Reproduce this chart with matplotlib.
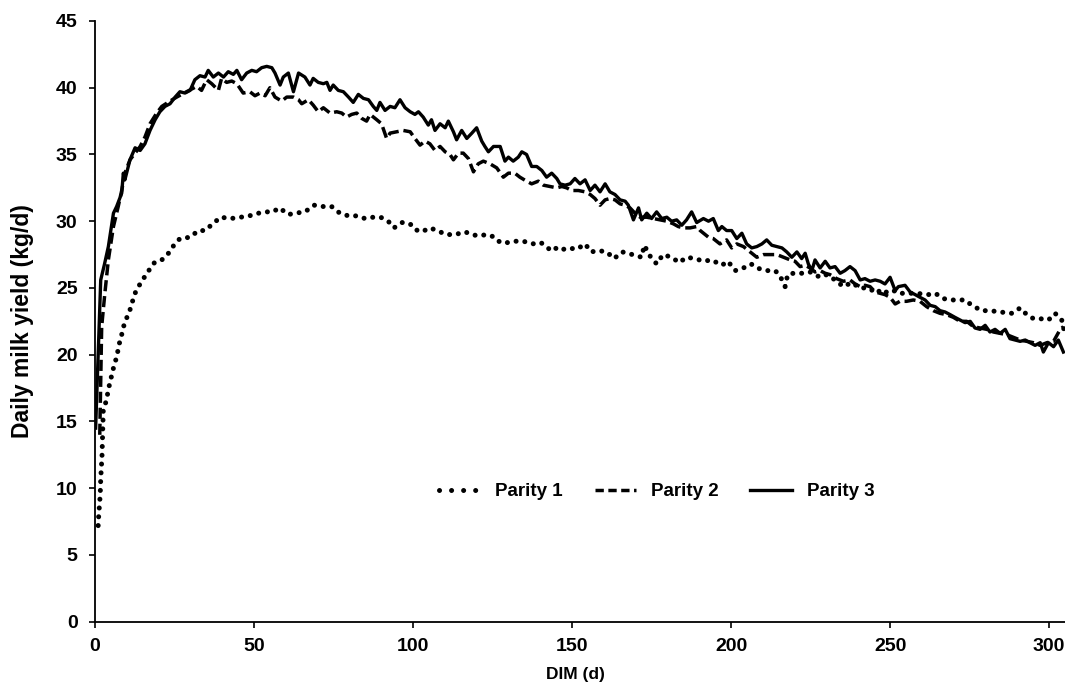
#!/usr/bin/env python3
import numpy as np
from matplotlib import pyplot as plt
from matplotlib.lines import Line2D

# Parity 1 (dotted) - DIM and yield
dim_p1 = [1.0, 1.2, 1.5, 1.7, 1.8, 2.0, 2.2, 2.3, 2.4, 2.5, 2.6, 3.6, 4.3, 5.1, 5.9, 6.9,
          7.5, 8.5, 9.3, 10.8, 11.8, 12.9, 14.7, 16.6, 18.7, 21.0, 23.1, 24.8, 26.7, 29.9,
          32.5, 34.6, 37.0, 39.5, 42.7, 45.8, 48.5, 51.4, 54.0, 55.9, 58.0, 60.8, 62.9,
          66.0, 68.9, 71.8, 74.4, 77.0, 79.7, 82.3, 84.9, 87.5, 89.8, 92.2, 94.0, 96.6,
          99.1, 100.4, 102.7, 105.3, 107.6, 110.4, 113.2, 116.4, 118.5, 120.6, 123.2,
          125.8, 127.4, 130.0, 132.1, 134.7, 137.5, 140.2, 142.9, 144.1, 145.9, 148.8,
          151.5, 154.1, 156.0, 158.3, 160.9, 163.2, 165.8, 169.0, 171.9, 172.7, 174.5,
          176.6, 178.6, 181.3, 183.7, 186.0, 188.7, 191.3, 193.9, 197.1, 199.0, 201.3,
          203.9, 206.3, 208.1, 211.0, 213.8, 215.2, 217.0, 217.8, 219.6, 222.2, 224.8,
          228.0, 230.1, 232.7, 235.3, 237.9, 240.6, 243.2, 245.8, 247.2, 249.5, 251.6,
          253.1, 255.8, 258.4, 262.0, 264.2, 266.8, 269.4, 271.5, 273.6, 275.7, 278.8,
          281.4, 284.6, 288.3, 290.9, 293.0, 295.1, 297.2, 299.8, 301.9, 304.3, 304.8]
yield_p1 = [7.2, 8.1, 9.0, 9.9, 10.7, 11.5, 12.4, 13.2, 14.1, 15.0, 15.8, 16.6, 17.5, 18.3,
            19.1, 19.9, 20.7, 21.6, 22.4, 23.2, 24.0, 24.8, 25.5, 26.2, 26.9, 27.1, 27.6,
            28.2, 28.7, 28.8, 29.3, 29.3, 29.8, 30.3, 30.2, 30.3, 30.4, 30.6, 30.7, 30.7,
            31.0, 30.5, 30.6, 30.7, 31.2, 31.1, 31.1, 30.6, 30.4, 30.4, 30.2, 30.3, 30.3,
            30.0, 29.5, 29.9, 29.8, 29.4, 29.2, 29.5, 29.3, 29.0, 29.0, 29.2, 29.0, 28.9,
            29.0, 28.8, 28.4, 28.4, 28.5, 28.5, 28.3, 28.4, 27.9, 28.1, 27.8, 28.0, 27.9,
            28.3, 27.7, 27.8, 27.7, 27.2, 27.7, 27.5, 27.3, 28.2, 27.4, 26.8, 27.5, 27.3,
            26.9, 27.3, 27.2, 27.0, 27.1, 26.7, 27.0, 26.3, 26.5, 26.8, 26.5, 26.3, 26.3,
            26.0, 25.1, 26.0, 26.1, 26.1, 26.2, 25.8, 26.0, 25.6, 25.1, 25.4, 25.0, 25.0,
            24.6, 24.9, 24.6, 24.8, 24.6, 24.6, 24.6, 24.5, 24.6, 24.2, 24.1, 24.1, 24.1,
            23.7, 23.3, 23.3, 23.2, 23.1, 23.5, 23.0, 22.7, 22.7, 22.6, 23.1, 22.5, 21.6]

# Parity 2 (dashed)
dim_p2 = [1.5, 2.1, 3.1, 4.2, 5.8, 7.3, 8.4, 9.4, 11.0, 14.2, 15.7, 17.3, 19.4, 21.0, 23.6,
          25.7, 28.8, 32.0, 33.5, 35.1, 36.7, 38.8, 39.8, 41.4, 43.0, 44.6, 46.6, 48.7,
          50.3, 51.9, 53.5, 55.0, 56.6, 58.7, 60.3, 62.4, 64.0, 65.0, 67.1, 68.6, 70.2,
          71.8, 73.9, 76.0, 77.6, 79.1, 80.7, 82.3, 83.9, 85.4, 86.5, 88.6, 90.1, 91.7,
          92.8, 94.9, 96.9, 99.1, 100.6, 102.2, 103.8, 105.3, 106.9, 108.5, 110.1, 111.6,
          112.7, 114.3, 115.8, 117.4, 119.0, 120.5, 122.1, 124.2, 126.3, 128.4, 130.0,
          132.0, 133.6, 135.7, 137.3, 139.4, 141.0, 143.1, 145.2, 146.8, 148.3, 149.9,
          152.0, 154.1, 155.7, 157.2, 158.8, 160.4, 161.9, 163.5, 165.1, 166.7, 168.2,
          169.8, 171.4, 173.5, 175.6, 177.7, 179.8, 181.9, 183.4, 185.0, 187.1, 189.2,
          190.3, 192.9, 194.4, 196.5, 198.6, 200.2, 201.8, 203.9, 206.0, 208.1, 210.2,
          212.3, 214.4, 216.5, 218.6, 220.1, 221.7, 223.3, 224.8, 226.4, 228.0, 229.6,
          231.1, 233.2, 235.3, 237.4, 239.0, 240.6, 242.1, 243.7, 245.3, 246.9, 248.4,
          250.0, 251.6, 253.1, 255.2, 257.3, 259.4, 261.5, 263.6, 265.7, 267.8, 269.9,
          272.0, 274.1, 276.2, 278.3, 280.4, 282.5, 284.6, 286.7, 288.8, 290.9, 293.0,
          295.1, 297.2, 299.3, 301.4, 303.5, 304.5]
yield_p2 = [14.0, 22.1, 24.6, 27.1, 29.6, 31.1, 32.3, 33.6, 34.6, 35.6, 36.3, 37.3, 38.1,
            38.6, 39.0, 39.3, 39.7, 40.1, 39.8, 40.6, 40.3, 39.8, 40.7, 40.4, 40.5, 40.3,
            39.6, 39.7, 39.4, 39.6, 39.4, 40.0, 39.3, 39.0, 39.3, 39.3, 39.1, 38.8, 39.1,
            38.7, 38.2, 38.5, 38.1, 38.2, 38.1, 37.8, 38.0, 38.1, 37.7, 37.5, 38.0, 37.6,
            37.3, 36.2, 36.6, 36.7, 36.8, 36.7, 36.2, 35.7, 36.0, 35.8, 35.3, 35.6, 35.2,
            35.0, 34.6, 35.1, 35.1, 34.7, 33.7, 34.3, 34.5, 34.3, 34.0, 33.3, 33.6, 33.6,
            33.3, 33.0, 32.8, 33.0, 32.7, 32.6, 32.5, 32.6, 32.5, 32.3, 32.3, 32.2, 32.0,
            31.7, 31.2, 31.6, 31.7, 31.6, 31.3, 31.2, 31.0, 30.6, 30.3, 30.3, 30.2, 30.1,
            30.0, 29.8, 29.6, 29.5, 29.5, 29.6, 29.3, 28.8, 28.7, 28.3, 28.6, 28.0, 28.3,
            28.1, 27.7, 27.3, 27.5, 27.5, 27.5, 27.3, 27.1, 27.0, 26.6, 26.7, 26.5, 26.2,
            26.3, 26.1, 26.0, 25.7, 25.5, 25.6, 25.3, 25.1, 25.2, 25.1, 24.7, 24.6, 24.5,
            24.3, 23.8, 24.0, 24.0, 24.1, 24.0, 23.6, 23.3, 23.1, 23.0, 22.8, 22.5, 22.5,
            22.1, 22.0, 21.9, 21.7, 21.6, 21.5, 21.3, 21.1, 21.0, 20.9, 20.7, 20.9, 21.0,
            21.9, 22.1]

# Parity 3 (solid)
dim_p3 = [0.2, 1.8, 3.0, 4.2, 5.8, 6.8, 8.4, 8.9, 9.4, 11.0, 12.6, 14.2, 15.7, 17.3, 18.9,
          20.4, 22.0, 23.6, 25.2, 26.7, 28.3, 29.9, 31.4, 33.0, 34.6, 35.6, 37.2, 38.8,
          40.4, 41.9, 43.5, 44.6, 46.1, 47.7, 49.3, 50.8, 52.4, 54.0, 55.6, 56.6, 58.2,
          59.2, 60.8, 62.4, 64.0, 66.0, 67.6, 68.6, 70.2, 71.8, 72.9, 73.9, 74.9, 76.5,
          78.1, 79.7, 81.2, 82.8, 84.4, 86.0, 87.5, 88.6, 89.6, 91.2, 92.8, 94.3, 95.9,
          97.5, 99.1, 100.6, 101.7, 103.2, 104.8, 105.8, 106.9, 108.5, 110.1, 111.1,
          112.7, 113.7, 115.3, 116.9, 118.5, 120.0, 121.6, 122.6, 123.7, 125.3, 127.4,
          128.9, 130.0, 131.5, 133.1, 134.2, 135.7, 137.3, 138.9, 140.5, 142.0, 143.6,
          145.2, 146.2, 147.8, 149.4, 150.9, 152.5, 154.1, 155.7, 157.2, 158.8, 160.4,
          161.9, 163.5, 165.1, 166.7, 167.7, 169.3, 170.9, 171.9, 173.5, 175.0, 176.6,
          178.2, 179.8, 181.3, 182.9, 184.5, 186.0, 187.6, 189.2, 191.3, 192.9, 194.4,
          196.0, 197.1, 198.6, 200.2, 201.8, 203.4, 204.9, 206.5, 208.1, 209.7, 211.2,
          212.8, 214.4, 216.0, 217.5, 219.1, 220.7, 222.2, 223.3, 224.3, 225.4, 226.4,
          228.0, 229.6, 231.1, 232.7, 234.3, 235.8, 237.4, 239.0, 240.6, 242.1, 243.7,
          245.3, 246.9, 248.4, 250.0, 251.6, 252.6, 254.7, 256.3, 257.9, 259.4, 261.0,
          262.6, 264.2, 265.7, 267.3, 268.9, 270.4, 272.0, 273.6, 275.2, 276.7, 278.3,
          279.9, 281.4, 283.0, 284.6, 286.2, 287.7, 289.3, 290.9, 292.5, 294.0, 295.6,
          297.2, 298.2, 299.8, 301.4, 302.9, 304.5]
yield_p3 = [14.5, 25.6, 26.8, 28.1, 30.6, 31.1, 32.1, 33.6, 33.1, 34.6, 35.5, 35.3, 35.8,
            36.8, 37.6, 38.2, 38.6, 38.8, 39.3, 39.7, 39.6, 39.8, 40.6, 40.9, 40.8, 41.3,
            40.8, 41.1, 40.8, 41.2, 41.0, 41.3, 40.6, 41.1, 41.3, 41.2, 41.5, 41.6, 41.5,
            41.1, 40.2, 40.8, 41.1, 39.7, 41.1, 40.8, 40.2, 40.7, 40.4, 40.3, 40.4, 39.8,
            40.2, 39.8, 39.7, 39.3, 38.9, 39.5, 39.2, 39.1, 38.6, 38.3, 38.9, 38.3, 38.6,
            38.5, 39.1, 38.5, 38.2, 38.0, 38.2, 37.8, 37.2, 37.6, 36.8, 37.3, 37.0, 37.5,
            36.7, 36.1, 36.8, 36.2, 36.6, 37.0, 36.0, 35.6, 35.2, 35.6, 35.6, 34.5, 34.8,
            34.5, 34.8, 35.2, 35.0, 34.1, 34.1, 33.8, 33.3, 33.6, 33.2, 32.8, 32.7, 32.8,
            33.2, 32.8, 33.1, 32.3, 32.7, 32.2, 32.8, 32.2, 32.0, 31.6, 31.5, 31.2, 30.1,
            31.0, 30.1, 30.6, 30.2, 30.7, 30.2, 30.3, 30.0, 30.1, 29.7, 30.1, 30.7, 29.9,
            30.2, 30.0, 30.2, 29.3, 29.6, 29.3, 29.3, 28.7, 29.1, 28.3, 28.0, 28.1, 28.3,
            28.6, 28.2, 28.1, 28.0, 27.7, 27.3, 27.7, 27.2, 27.6, 26.8, 26.3, 27.1, 26.5,
            27.0, 26.5, 26.6, 26.1, 26.3, 26.6, 26.3, 25.6, 25.7, 25.5, 25.6, 25.5, 25.3,
            25.8, 24.8, 25.1, 25.2, 24.7, 24.5, 24.3, 24.1, 23.7, 23.6, 23.3, 23.2, 23.0,
            22.8, 22.6, 22.4, 22.5, 22.0, 21.9, 22.2, 21.7, 21.9, 21.6, 21.9, 21.2, 21.1,
            21.0, 21.1, 20.9, 20.7, 20.9, 20.2, 20.9, 20.6, 21.1, 20.2]

x_ticks = [0, 50, 100, 150, 200, 250, 300]
y_ticks = [0, 5, 10, 15, 20, 25, 30, 35, 40, 45]

plt.rcParams['font.family'] = ['Liberation Sans', 'DejaVu Sans']
plt.rcParams['font.weight'] = 'bold'
plt.rcParams['axes.linewidth'] = 1.3
plt.rcParams['xtick.direction'] = 'out'
plt.rcParams['ytick.direction'] = 'out'
plt.rcParams['xtick.major.size'] = 4.5
plt.rcParams['ytick.major.size'] = 4.5
plt.rcParams['xtick.major.width'] = 1.2
plt.rcParams['ytick.major.width'] = 1.2

fig = plt.figure(figsize=(10.65, 6.9), dpi=100)
ax = fig.add_axes([0.0892, 0.099, 0.9108, 0.8706])

dot_style = (0, (0.01, 1.75))
dash_style = (0, (3.2, 1.4))

ax.plot(dim_p1, yield_p1, color='black', linewidth=3.6, linestyle=dot_style,
        dash_capstyle='round')
ax.plot(dim_p2, yield_p2, color='black', linewidth=2.5, linestyle=dash_style)
ax.plot(dim_p3, yield_p3, color='black', linewidth=2.4, linestyle='-')

ax.set_xlim(0, 305)
ax.set_ylim(0, 45)
ax.set_xticks(x_ticks)
ax.set_yticks(y_ticks)
ax.tick_params(axis='both', labelsize=14)
ax.tick_params(axis='y', pad=8)
ax.tick_params(axis='x', pad=7)
for side in ['top', 'right']:
    ax.spines[side].set_visible(False)

ax.set_xlabel('DIM (d)', fontsize=12.5, fontweight='bold', labelpad=5)
ax.set_ylabel('Daily milk yield (kg/d)', fontsize=16.5, fontweight='bold', labelpad=16)
ax.xaxis.set_label_coords(0.495, -0.075)

handles = [Line2D([], [], color='black', linewidth=3.6, linestyle=(0, (0.01, 2.4)),
                  dash_capstyle='round'),
           Line2D([], [], color='black', linewidth=2.5, linestyle=(0, (2.4, 1.3))),
           Line2D([], [], color='black', linewidth=2.4, linestyle='-')]
ax.legend(handles, ['Parity 1', 'Parity 2', 'Parity 3'], ncol=3, frameon=False,
          loc='center', bbox_to_anchor=(0.579, 0.216), fontsize=13.5,
          handlelength=2.2, handletextpad=0.8, columnspacing=1.7)

fig.savefig('out.png', dpi=100)
plt.close()
